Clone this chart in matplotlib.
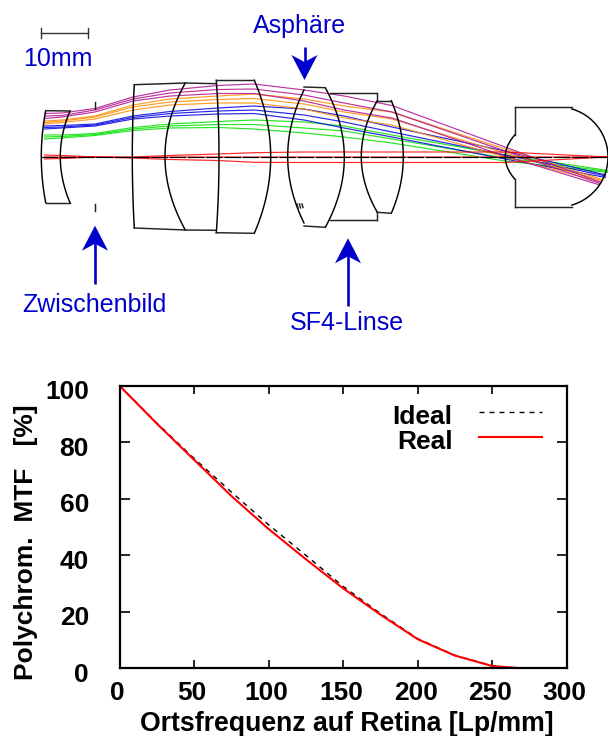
import numpy as np
import matplotlib
matplotlib.use("Agg")
import matplotlib.pyplot as plt
from matplotlib.patches import Polygon
from matplotlib.transforms import ScaledTranslation

plt.rcParams['font.family'] = ['Liberation Sans', 'DejaVu Sans']

# ---- MTF data ----
freq_real = [0, 25, 50, 75, 100, 125, 150, 175, 200, 225, 250, 260, 270, 300]
mtf_real = [100, 86.6, 73.8, 61, 49.3, 38.6, 28.3, 19, 10.3, 4.5, 0.8, 0.4, 0, 0]
freq_ideal = [0, 25, 50, 75, 100, 125, 150, 175, 200, 225, 250, 260, 270]
mtf_ideal = [100, 86.8, 74.3, 62.4, 50.8, 40, 29, 19.4, 10.5, 4.6, 0.9, 0.4, 0]
x_ticks = [0, 50, 100, 150, 200, 250, 300]
y_ticks = [0, 20, 40, 60, 80, 100]

# ---- lens diagram data (image pixel units) ----
# curved surfaces: x at top edge, y top, x at axis, x at bottom edge, y bottom
surfaces = [
    (45.7, 110.7, 41.3, 45.7, 202.7),
    (70.0, 111.0, 60.3, 70.0, 202.7),
    (134.3, 84.7, 132.3, 134.3, 228.0),
    (185.3, 83.0, 165.0, 185.3, 230.0),
    (216.3, 80.3, 219.0, 216.3, 232.7),
    (254.3, 80.3, 270.7, 254.3, 233.3),
    (304.0, 90.0, 287.7, 304.0, 223.0),
    (325.3, 87.7, 344.3, 325.3, 227.3),
    (377.3, 100.7, 361.3, 377.3, 212.3),
    (391.3, 100.7, 403.3, 391.3, 213.3),
    (514.7, 135.0, 505.3, 514.7, 179.0),
]
# straight edges: x0, y0, x1, y1
edges = [
    (45.7, 110.7, 70.0, 111.0), (45.7, 202.7, 70.0, 202.7),
    (134.3, 84.7, 185.3, 83.0), (134.3, 228.0, 185.3, 230.0),
    (185.3, 83.0, 216.3, 83.7), (185.3, 230.0, 216.3, 230.3),
    (216.3, 80.3, 254.3, 80.3), (216.3, 232.7, 254.3, 233.3),
    (304.0, 87.0, 325.3, 87.7), (304.0, 226.0, 325.3, 227.3),
    (329.7, 93.0, 377.3, 93.0), (329.7, 220.3, 377.3, 220.3),
    (377.3, 93.0, 377.3, 100.7), (377.3, 212.3, 377.3, 220.3),
    (377.3, 100.7, 391.3, 100.7), (377.3, 212.3, 391.3, 213.3),
    (514.7, 107.3, 572.3, 107.3), (514.7, 206.7, 572.3, 206.7),
    (514.7, 107.3, 514.7, 135.0), (514.7, 179.0, 514.7, 206.7),
    (95.0, 102.0, 95.0, 109.0), (95.0, 204.0, 95.0, 211.0),
    (297.0, 204.0, 298.0, 208.0), (299.5, 204.0, 300.5, 208.0), (302.0, 204.0, 303.0, 207.5),
]
eye_center = (558.0, 157.0)
eye_radius = 50.0

station_x = [44, 62, 95, 133, 170, 218, 254, 304, 344, 392, 505]
rays_magenta = [
    [113.5, 113, 108.5, 97, 90, 85.5, 84, 90, 96, 105.5, 147, 182],
    [116, 115.5, 110, 99, 93, 89.5, 89, 95, 103, 112, 151, 183.5],
    [118.5, 117, 112, 101, 96, 93.5, 93.5, 101, 110, 118, 156, 185],
]
rays_orange = [
    [121, 120, 116, 105, 99, 96, 94, 99, 106, 112, 149, 179.5],
    [122.5, 121, 117, 107, 102, 99.5, 98.5, 104, 112, 119, 153, 180.5],
    [124, 122.5, 119, 110, 105, 103, 103, 109, 118, 125, 157, 182],
]
rays_blue = [
    [126, 125.5, 124, 116, 111.5, 108, 106, 109, 116, 127, 151, 175],
    [127.5, 127, 125, 117.5, 113.5, 111, 110, 115, 122, 132, 155, 176],
    [129, 128, 126, 119, 116, 114, 113.5, 120, 128, 137, 159, 177.5],
]
rays_green = [
    [135, 135, 133.5, 127.5, 124, 121.5, 120, 122, 126, 135, 155, 170.5],
    [137, 136.5, 134.5, 129, 126, 124.5, 124.5, 128, 131, 139, 158, 171.5],
    [139, 138, 135.5, 130.5, 128, 127.5, 129, 133, 137, 143, 161, 172.5],
]
rays_red = [
    [155, 155.5, 157, 157, 155.5, 154, 152.7, 152, 152, 152, 152, 157],
    [157, 157, 157, 157.5, 157, 157, 157, 157, 157, 157, 157, 157],
    [159, 158.5, 157, 158, 159.5, 160.5, 162.3, 162.5, 162.5, 162.5, 162.5, 157],
]
ray_bundles = [(rays_green, '#00e000', 608), (rays_blue, '#0000e0', 606),
               (rays_orange, '#ff8c00', 602), (rays_magenta, '#b01090', 600),
               (rays_red, '#ff0000', 608)]

BLUE = '#0000cc'
# text, centre x, baseline y
labels = [('10mm', 58, 66), ('Asphäre', 299.5, 33), ('Zwischenbild', 94.5, 312), ('SF4-Linse', 347, 330)]
# arrows: tail x, tail y, tip x, tip y
arrows = [(95, 284, 95, 225.7), (304.5, 46.7, 304.5, 80), (348, 305.7, 348, 238.3)]

fig = plt.figure(figsize=(6.08, 7.36), dpi=100)

# ---- top diagram ----
top = fig.add_axes([0, 0, 1, 1])
top.set_xlim(0, 608)
top.set_ylim(736, 0)
top.axis('off')

for bundle, col, end_x in ray_bundles:
    for r in bundle:
        top.plot(station_x + [end_x], r, color=col, lw=0.85, alpha=0.85, solid_capstyle='butt')
top.plot([41, 608], [157, 157], color='black', lw=0.85, dashes=(14, 1.5))

for xt, yt, xm, xb, yb in surfaces:
    ym = 157
    ys = np.linspace(yt, yb, 60)
    xs = np.polyval(np.polyfit([yt, ym, yb], [xt, xm, xb], 2), ys)
    top.plot(xs, ys, color='black', lw=1.05)
for x0, y0, x1, y1 in edges:
    top.plot([x0, x1], [y0, y1], color='#222222', lw=1.05)
t = np.linspace(-1.29, 1.29, 60)
top.plot(eye_center[0] + eye_radius * np.cos(t), eye_center[1] + eye_radius * np.sin(t), color='black', lw=1.05)

# scale bar
top.plot([41, 88], [33, 33], color='#333333', lw=1.0)
top.plot([41, 41], [28, 38], color='#333333', lw=1.0)
top.plot([88, 88], [28, 38], color='#333333', lw=1.0)

for txt, x, y in labels:
    top.text(x, y, txt, color=BLUE, fontsize=18, ha='center', va='baseline')

for x0, y0, x1, y1 in arrows:
    d = 1 if y1 > y0 else -1
    top.plot([x0, x1], [y0, y1 - d * 12], color=BLUE, lw=1.9, solid_capstyle='butt')
    top.add_patch(Polygon([(x1, y1), (x1 - 13, y1 - d * 25), (x1, y1 - d * 18), (x1 + 13, y1 - d * 25)],
                          closed=True, facecolor=BLUE, edgecolor='none'))

# ---- MTF plot ----
L, R, T, B = 119.5, 566.7, 385.7, 668.3
ax = fig.add_axes([L / 608, 1 - B / 736, (R - L) / 608, (B - T) / 736])
ax.patch.set_alpha(0)
ax.plot(freq_ideal, mtf_ideal, color='black', lw=1.0, dashes=(3.6, 3.6), label='Ideal')
ax.plot(freq_real, mtf_real, color='#ff0000', lw=1.5, label='Real')
ax.set_xlim(0, 300)
ax.set_ylim(0, 100)
ax.set_xticks(x_ticks)
ax.set_yticks(y_ticks)
ax.tick_params(axis='x', direction='in', top=True, length=5.5, width=1.2, pad=9.5, labelsize=19)
ax.tick_params(axis='y', direction='in', right=True, length=7, width=1.2, pad=22, labelsize=19)
for lab in ax.get_xticklabels():
    lab.set_fontweight('bold')
    lab.set_transform(lab.get_transform() + ScaledTranslation(-2 / 100, 0, fig.dpi_scale_trans))
for lab in ax.get_yticklabels():
    lab.set_fontweight('bold')
    lab.set_transform(lab.get_transform() + ScaledTranslation(0, -4 / 100, fig.dpi_scale_trans))
for s in ax.spines.values():
    s.set_linewidth(1.6)
ax.set_xlabel('Ortsfrequenz auf Retina [Lp/mm]', fontsize=19.2, fontweight='bold')
ax.xaxis.set_label_coords((346.5 - L) / (R - L), (B - 731) / (B - T), transform=ax.transAxes)
ax.xaxis.label.set_verticalalignment('baseline')
ax.set_ylabel('Polychrom.  MTF   [%]', fontsize=19, fontweight='bold')
ax.yaxis.set_label_coords((33 - L) / (R - L), (B - 542.5) / (B - T), transform=ax.transAxes)
ax.yaxis.label.set_verticalalignment('baseline')
ax.legend(loc='upper right', frameon=False, markerfirst=False, handlelength=2.4, handleheight=1.4,
          handletextpad=1.0, labelspacing=-0.2, prop={'size': 19, 'weight': 'bold'},
          bbox_to_anchor=(0.945, 0.95), borderaxespad=0, borderpad=0)

fig.savefig('out.png', dpi=100)
